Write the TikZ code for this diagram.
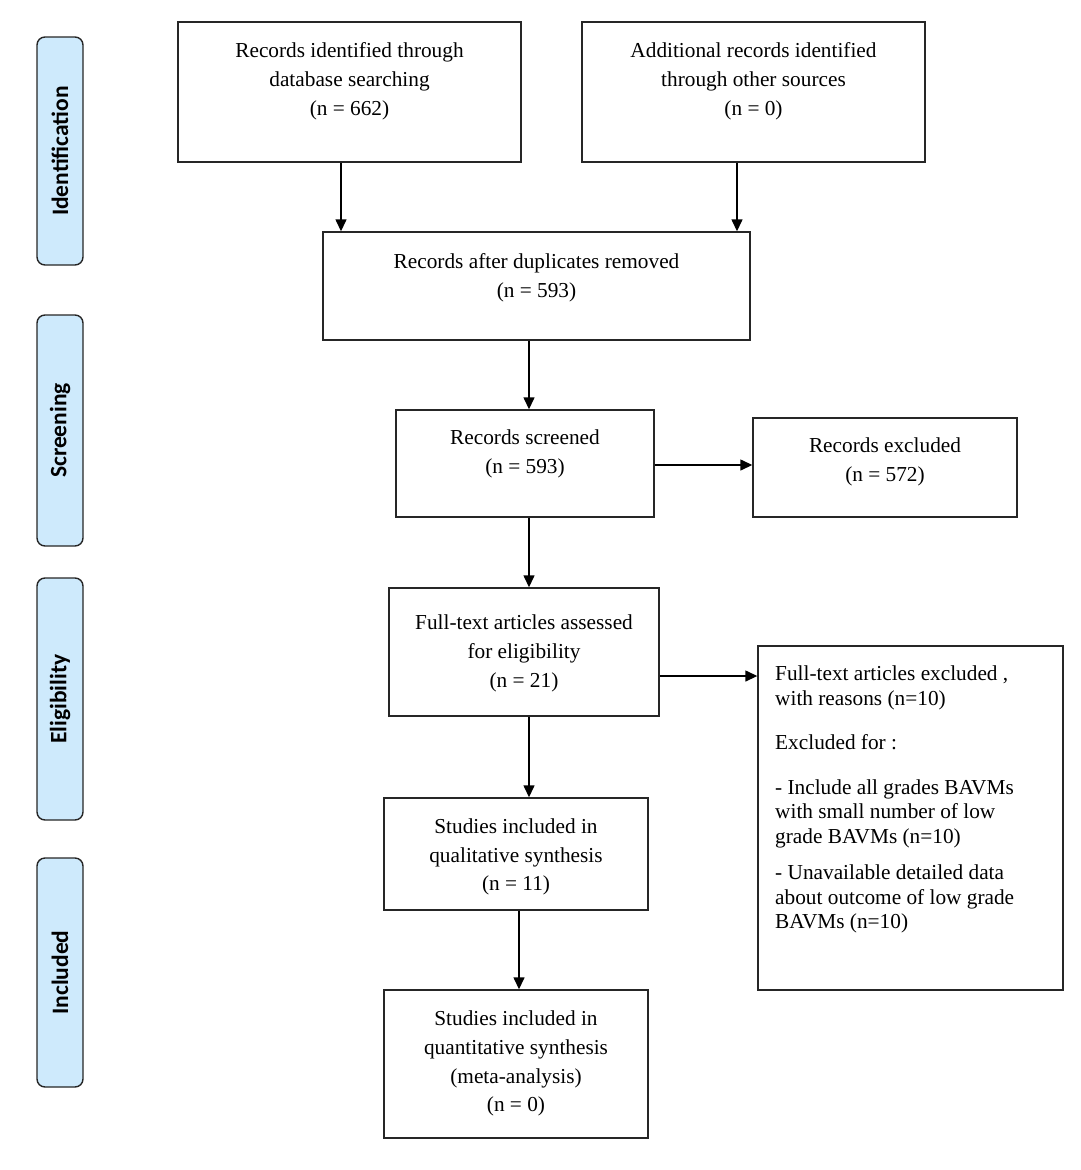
\documentclass[tikz,border=0pt]{standalone}
\usepackage{fontspec}
\setmainfont{Liberation Serif}
\newfontfamily\sidefont{Carlito}
\usetikzlibrary{arrows.meta,calc}
\definecolor{sideblue}{RGB}{206,234,252}
\begin{document}
\begin{tikzpicture}[x=1pt,y=-1pt,
  box/.style={draw=black!85, line width=1.4pt, inner sep=0pt},
  txt/.style={align=center, inner sep=0pt, font=\fontsize{21.3}{28.8}\selectfont},
  side/.style={draw=black!85, line width=1.4pt, fill=sideblue, rounded corners=8pt, rotate=90, inner sep=0pt, minimum height=46pt, font=\sidefont\bfseries\fontsize{23.5}{26}\selectfont},
  arr/.style={line width=1.4pt, -{Triangle[length=12pt,width=11pt]}}]
\useasboundingbox (0,0) rectangle (1080,1170);
% side labels
\node[side, minimum width=228pt] (sid) at (60,151) {Identification};
\node[side, minimum width=231pt] (sscr) at (60,430.5) {Screening};
\node[side, minimum width=242pt] (selig) at (60,699) {Eligibility};
\node[side, minimum width=229pt] (sinc) at (60,972.5) {Included};
% boxes
\node[box, minimum width=343pt, minimum height=140pt] (b1) at (349.5,92) {};
\node[txt] (t1) at (349.5,81) {Records identified through\\database searching\\(n = 662)};
\node[box, minimum width=343pt, minimum height=140pt] (b2) at (753.5,92) {};
\node[txt] (t2) at (753.5,81) {Additional records identified\\through other sources\\(n = 0)};
\node[box, minimum width=427pt, minimum height=108pt] (b3) at (536.5,286) {};
\node[txt] (t3) at (536.5,277.5) {Records after duplicates removed\\(n = 593)};
\node[box, minimum width=258pt, minimum height=107pt] (b4) at (525,463.5) {};
\node[txt] (t4) at (525,454) {Records screened\\(n = 593)};
\node[box, minimum width=264pt, minimum height=99pt] (b5) at (885,467.5) {};
\node[txt] (t5) at (885,462) {Records excluded\\(n = 572)};
\node[box, minimum width=270pt, minimum height=128pt] (b6) at (524,652) {};
\node[txt] (t6) at (524,653.5) {Full-text articles assessed\\for eligibility\\(n = 21)};
\node[box, minimum width=305pt, minimum height=344pt] (b7) at (910.5,818) {};
\node[align=left, anchor=north west, inner sep=0pt, font=\fontsize{21.3}{24.5}\selectfont] (t7) at (775,666) {Full-text articles excluded ,\\with reasons (n=10)\\[20pt]Excluded for :\\[20pt]- Include all grades BAVMs\\with small number of low\\grade BAVMs (n=10)\\[12pt]- Unavailable detailed data\\about outcome of low grade\\BAVMs (n=10)};
\node[box, minimum width=264pt, minimum height=112pt] (b8) at (516,854) {};
\node[txt] (t8) at (516,857) {Studies included in\\qualitative synthesis\\(n = 11)};
\node[box, minimum width=264pt, minimum height=148pt] (b9) at (516,1064) {};
\node[txt] (t9) at (516,1063.5) {Studies included in\\quantitative synthesis\\(meta-analysis)\\(n = 0)};
% connectors
\draw[arr] ([xshift=-8.5pt]b1.south) -- ([xshift=-8.5pt]b1.south |- b3.north);
\draw[arr] ([xshift=-16.5pt]b2.south) -- ([xshift=-16.5pt]b2.south |- b3.north);
\draw[arr] ([xshift=-7.5pt]b3.south) -- ([xshift=-7.5pt]b3.south |- b4.north);
\draw[arr] ([xshift=4pt]b4.south) -- ([xshift=4pt]b4.south |- b6.north);
\draw[arr] ([yshift=-1.5pt]b4.east) -- ([yshift=-1.5pt]b4.east -| b5.west);
\draw[arr] ([yshift=-24pt]b6.east) -- ([yshift=-24pt]b6.east -| b7.west);
\draw[arr] ([xshift=5pt]b6.south) -- ([xshift=5pt]b6.south |- b8.north);
\draw[arr] ([xshift=3pt]b8.south) -- ([xshift=3pt]b8.south |- b9.north);
\end{tikzpicture}
\end{document}
